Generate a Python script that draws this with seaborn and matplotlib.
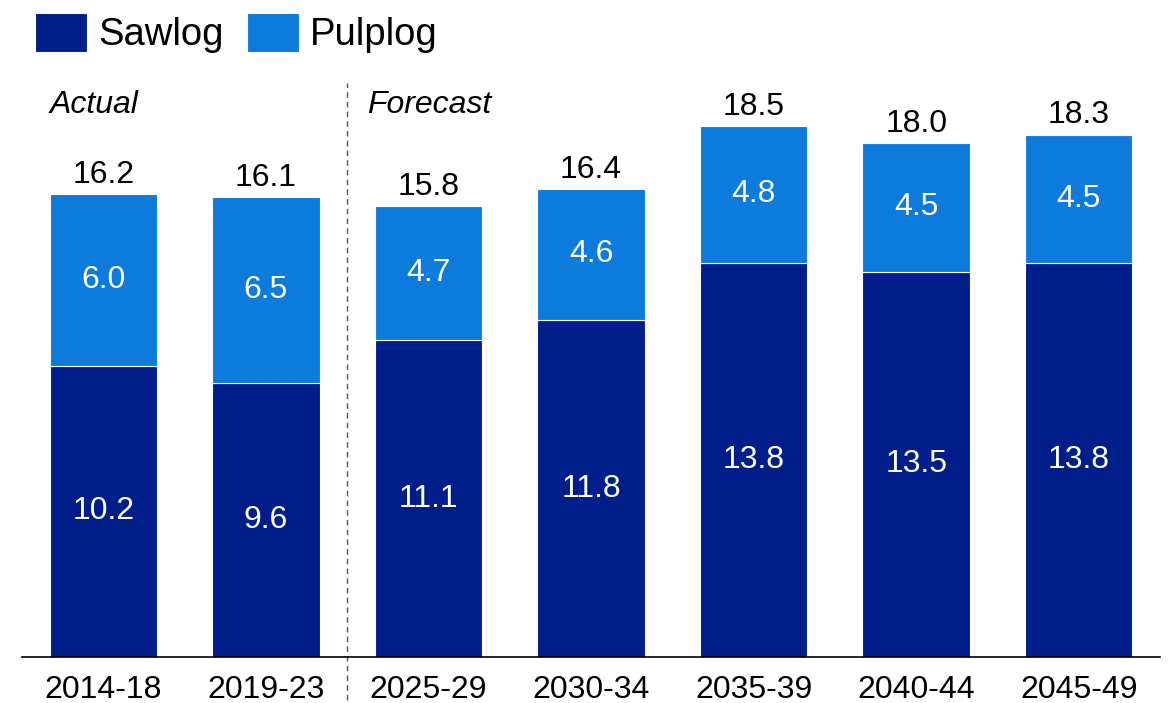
import matplotlib
matplotlib.use("Agg")
import matplotlib.pyplot as plt
import seaborn as sns
import pandas as pd
import numpy as np
from matplotlib.patches import Patch
from matplotlib.lines import Line2D

periods = ["2014-18", "2019-23", "2025-29", "2030-34", "2035-39", "2040-44", "2045-49"]
sawlog = [10.2, 9.6, 11.1, 11.8, 13.8, 13.5, 13.8]
pulplog = [6.0, 6.5, 4.7, 4.6, 4.8, 4.5, 4.5]
totals = [16.2, 16.1, 15.8, 16.4, 18.5, 18.0, 18.3]
series_names = ["Sawlog", "Pulplog"]

SAW_C = "#001E8A"
PULP_C = "#0C7BDC"

sns.set_theme(style="white")
plt.rcParams["font.family"] = ["Liberation Sans", "DejaVu Sans"]

W, H = 1171, 703
fig = plt.figure(figsize=(W / 100, H / 100), dpi=100)
ax = fig.add_axes([22 / W, (H - 657) / H, (1160 - 22) / W, (657 - 80) / H])

df = pd.DataFrame({"period": periods, "sawlog": sawlog, "pulplog": pulplog})
sns.barplot(data=df, x="period", y="sawlog", color=SAW_C, saturation=1, width=0.66,
            edgecolor="white", linewidth=0.8, ax=ax)
sns.barplot(data=df, x="period", y="pulplog", color=PULP_C, saturation=1, width=0.66,
            bottom=np.array(sawlog), edgecolor="white", linewidth=0.8, ax=ax)

FS = 23
ax.set_xlim(-0.5, 6.5)
ax.set_ylim(0, 577 / 28.55)
ax.set_xlabel("")
ax.set_ylabel("")
ax.set_yticks([])
for s in ["top", "right", "left"]:
    ax.spines[s].set_visible(False)
ax.spines["bottom"].set_color("black")
ax.spines["bottom"].set_linewidth(1.2)
ax.tick_params(axis="x", length=0, pad=13, labelsize=FS, labelcolor="black")

for i in range(len(periods)):
    ax.text(i, sawlog[i] / 2, f"{sawlog[i]:.1f}", ha="center", va="center",
            color="white", fontsize=FS)
    ax.text(i, sawlog[i] + pulplog[i] / 2, f"{pulplog[i]:.1f}", ha="center", va="center",
            color="white", fontsize=FS)
    ax.annotate(f"{totals[i]:.1f}", (i, sawlog[i] + pulplog[i]), xytext=(0, 3),
                textcoords="offset points", ha="center", va="bottom",
                color="black", fontsize=FS)

# divider between actual and forecast
trans = matplotlib.transforms.blended_transform_factory(ax.transData, fig.transFigure)
ax.add_line(Line2D([1.5, 1.5], [(H - 700) / H, (H - 83) / H], transform=trans,
                   color="#555555", linestyle=(0, (4, 3)), linewidth=1.0, clip_on=False))

ax.text(-0.33, (H - 105) / H, "Actual", transform=trans, ha="left", va="center",
        fontsize=FS, style="italic", color="black")
ax.text(1.62, (H - 105) / H, "Forecast", transform=trans, ha="left", va="center",
        fontsize=FS, style="italic", color="black")

handles = [Patch(facecolor=SAW_C, edgecolor="white", linewidth=0.8),
           Patch(facecolor=PULP_C, edgecolor="white", linewidth=0.8)]
fig.legend(handles, series_names, loc="upper left", bbox_to_anchor=(35 / W, 1 - 13 / H),
           ncol=2, frameon=False, fontsize=27.5, handlelength=1.36, handleheight=1.2,
           handletextpad=0.3, columnspacing=0.6, borderpad=0, borderaxespad=0,
           labelcolor="black")

fig.savefig("out.png", dpi=100)
